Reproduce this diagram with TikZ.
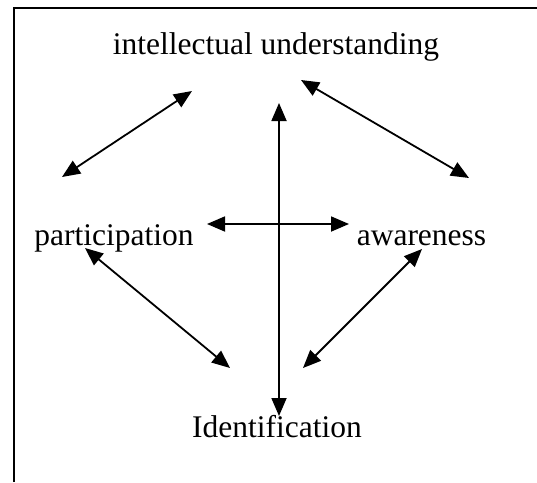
\documentclass[tikz,border=0pt]{standalone}
\usepackage{fontspec}
\setmainfont{Liberation Serif}
\usetikzlibrary{arrows.meta}

\begin{document}
\begin{tikzpicture}[
      x=1pt, y=-1pt,
      label/.style={anchor=base, inner sep=0pt,
        font=\fontsize{31.5}{36}\selectfont},
      link/.style={<->, line width=1.8pt},
      >={Triangle[length=18pt, width=15pt]}
    ]
      \useasboundingbox (0,0) rectangle (537,482);
      % frame (only top and left edges fall inside)
      \draw[line width=2pt] (14,482) -- (14,8) -- (537,8);

      \node[label] (intel) at (276,54) {intellectual understanding};
      \node[label] (partic) at (114,245) {participation};
      \node[label] (aware) at (421.5,245) {awareness};
      \node[label] (ident) at (277,437) {Identification};

      % arrow ends
      \coordinate (tlA) at (192,91);  \coordinate (tlB) at (62,177);
      \coordinate (trA) at (301,80);  \coordinate (trB) at (469,178);
      \coordinate (vA) at (279,103);  \coordinate (vB) at (279,416);
      \coordinate (hA) at (207,224);  \coordinate (hB) at (349,224);
      \coordinate (blA) at (85,248);  \coordinate (blB) at (230,368);
      \coordinate (brA) at (422,249); \coordinate (brB) at (303,368);

      \draw[link] (tlA) -- (tlB);
      \draw[link] (trA) -- (trB);
      \draw[link] (vA) -- (vB);
      \draw[link] (hA) -- (hB);
      \draw[link] (blA) -- (blB);
      \draw[link] (brA) -- (brB);
    \end{tikzpicture}
\end{document}
